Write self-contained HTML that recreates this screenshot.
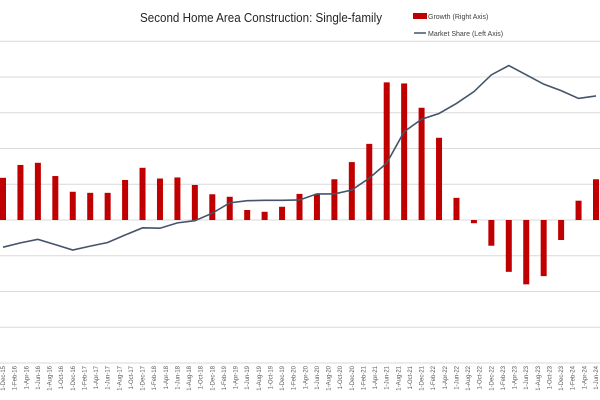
<!DOCTYPE html>
<html><head><meta charset="utf-8"><style>
html,body{margin:0;padding:0;background:#fff;width:600px;height:400px;overflow:hidden}
svg{display:block;font-family:"Liberation Sans",sans-serif}
</style></head><body>
<svg id="chart" width="600" height="400" viewBox="0 0 600 400">
<text x="261" y="22" text-anchor="middle" font-size="13" textLength="242" lengthAdjust="spacingAndGlyphs" fill="#262626">Second Home Area Construction: Single-family</text>
<g>
<rect x="413" y="13" width="14" height="6" fill="#c00000"/>
<text x="428" y="19" font-size="7" fill="#404040">Growth (Right Axis)</text>
<line x1="414" y1="33" x2="426" y2="33" stroke="#44546a" stroke-width="1.5"/>
<text x="428" y="36" font-size="7" fill="#404040">Market Share (Left Axis)</text>
</g>
<g id="grid"></g>
<g id="bars"></g>
<g id="line"></g>
<g id="xlabels"></g>
</svg>
<script>
const monthNames = ["Jan","Feb","Mar","Apr","May","Jun","Jul","Aug","Sep","Oct","Nov","Dec"];
// growth (right axis), quarterly from Dec-15 to Jun-24
const growth = [11.8,15.4,16.0,12.3,7.9,7.6,7.6,11.2,14.6,11.6,11.9,9.8,7.2,6.5,2.8,2.3,3.7,7.3,7.3,11.4,16.2,21.3,38.5,38.2,31.4,23.0,6.2,-0.9,-7.2,-14.5,-18.0,-15.7,-5.6,5.4,11.4];
// market share (left axis), quarterly
const share = [3.24,3.36,3.46,3.31,3.16,3.27,3.37,3.58,3.78,3.77,3.92,3.98,4.19,4.48,4.54,4.55,4.55,4.56,4.73,4.73,4.84,5.17,5.59,6.47,6.82,6.98,7.26,7.59,8.06,8.32,8.06,7.80,7.62,7.40,7.47];
const NS = "http://www.w3.org/2000/svg";
const x0 = 3, pxPerMonth = 593/102;
function xAt(month){ return x0 + month*pxPerMonth; }
function yRight(v){ return 220 - v*3.575; }
function yLeft(v){ return 363 - v*35.75; }
const grid = document.getElementById('grid');
const gridVals = [-40,-30,-20,-10,0,10,20,30,40,50];
gridVals.forEach(v=>{
  const l=document.createElementNS(NS,'line');
  
  
  l.setAttribute('x1',0);l.setAttribute('x2',600);
  const y=yRight(v);
  l.setAttribute('y1',y);l.setAttribute('y2',y);
  l.setAttribute('stroke','#d9d9d9');l.setAttribute('stroke-width','1');
  grid.appendChild(l);
});
const bars=document.getElementById('bars');
growth.forEach((v,i)=>{
  const r=document.createElementNS(NS,'rect');
  
  
  const cx=xAt(i*3), y0=yRight(0), y1=yRight(v);
  r.setAttribute('x',cx-3);r.setAttribute('width',6);
  r.setAttribute('y',Math.min(y0,y1));r.setAttribute('height',Math.abs(y1-y0));
  r.setAttribute('fill','#c00000');
  bars.appendChild(r);
});
const pl=document.createElementNS(NS,'polyline');


pl.setAttribute('points',share.map((v,i)=>xAt(i*3)+','+yLeft(v)).join(' '));
pl.setAttribute('fill','none');pl.setAttribute('stroke','#44546a');pl.setAttribute('stroke-width','1.6');
document.getElementById('line').appendChild(pl);
const xl=document.getElementById('xlabels');
for(let m=0;m<=102;m+=2){
  const mon=(11+m)%12, yr=15+Math.floor((11+m)/12);
  const t=document.createElementNS(NS,'text');
  
  
  const x=xAt(m)+2;
  t.setAttribute('transform','translate('+x+',366) rotate(-90)');
  t.setAttribute('text-anchor','end');
  t.setAttribute('font-size','6');
  t.setAttribute('fill','#595959');
  t.textContent='1-'+monthNames[mon]+'-'+yr;
  xl.appendChild(t);
}
</script>
</body></html>
